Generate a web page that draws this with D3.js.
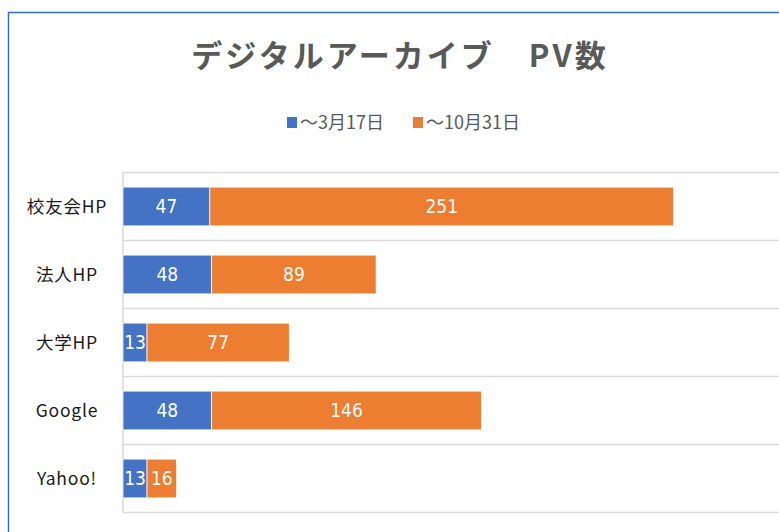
<!DOCTYPE html>
<html>
<head>
<meta charset="utf-8">
<script src="https://cdn.jsdelivr.net/npm/d3@7"></script>
<style>
  body { margin: 0; background: #fff; overflow: hidden; }
</style>
</head>
<body>
<div id="chart"></div>
<script>
// data
var categories = ["校友会HP", "法人HP", "大学HP", "Google", "Yahoo!"];
var seriesNames = ["～3月17日", "～10月31日"];
var march = [47, 48, 13, 48, 13];
var october = [251, 89, 77, 146, 16];
var colors = ["#4472C4", "#ED7D31"];

var W = 779, H = 532;

var svg = d3.select("#chart")
  .append("svg")
    .attr("width", W)
    .attr("height", H);

// chart border (cropped at right / bottom)
svg.append("rect")
  .attr("x", 8.5)
  .attr("y", 12.5)
  .attr("width", 900)
  .attr("height", 900)
  .attr("fill", "#fff")
  .attr("stroke", "#3A6BC0")
  .attr("stroke-width", 1.5);

var plot = {left: 123, top: 172.5, bottom: 512.5, right: 790};

var x = d3.scaleLinear()
    .domain([0, 361])
    .range([plot.left, plot.right]);

var y = d3.scaleBand()
    .domain(categories)
    .range([plot.top, plot.bottom])
    .paddingInner(0.43)
    .paddingOuter(0.215);

// gridlines at band edges
var step = y.step();
var edges = d3.range(categories.length + 1).map(function(i) { return plot.top + i * step; });
svg.selectAll(".grid")
  .data(edges)
  .enter()
  .append("line")
    .attr("x1", plot.left)
    .attr("x2", plot.right)
    .attr("y1", function(d) { return d; })
    .attr("y2", function(d) { return d; })
    .attr("stroke", "#D9D9D9")
    .attr("stroke-width", 1.5);

svg.append("line")
  .attr("x1", plot.left)
  .attr("x2", plot.left)
  .attr("y1", plot.top)
  .attr("y2", plot.bottom)
  .attr("stroke", "#D9D9D9")
  .attr("stroke-width", 1.5);

// stacked table
var table = categories.map(function(c, i) {
  return {name: c, a: march[i], b: october[i]};
});
var stacked = d3.stack().keys(["a", "b"])(table);

var layers = svg.selectAll(".layer")
  .data(stacked)
  .enter()
  .append("g")
    .attr("fill", function(d, i) { return colors[i]; });

layers.selectAll("rect")
  .data(function(d) { return d; })
  .enter()
  .append("rect")
    .attr("x", function(d) { return x(d[0]); })
    .attr("y", function(d) { return y(d.data.name); })
    .attr("width", function(d) { return x(d[1]) - x(d[0]); })
    .attr("height", y.bandwidth())
    .attr("stroke", "#fff")
    .attr("stroke-width", 0.75);

layers.selectAll("text")
  .data(function(d) { return d; })
  .enter()
  .append("text")
    .attr("x", function(d) { return (x(d[0]) + x(d[1])) / 2; })
    .attr("y", function(d) { return y(d.data.name) + y.bandwidth() / 2; })
    .attr("dy", "0.36em")
    .attr("text-anchor", "middle")
    .attr("fill", "#fff")
    .style("font-family", "'Liberation Sans Narrow', 'DejaVu Sans Condensed', sans-serif")
    .style("font-size", "19px")
    .text(function(d) { return d[1] - d[0]; });

// category labels
svg.selectAll(".cat")
  .data(categories)
  .enter()
  .append("text")
    .attr("x", 67)
    .attr("y", function(d) { return y(d) + y.bandwidth() / 2; })
    .attr("dy", "0.36em")
    .attr("text-anchor", "middle")
    .attr("fill", "#1a1a1a")
    .style("font-family", "'Noto Sans CJK JP', sans-serif")
    .style("font-size", "17.5px")
    .style("letter-spacing", "0.8px")
    .text(function(d) { return d; });

// title
svg.append("text")
  .attr("x", 400)
  .attr("y", 67)
  .attr("text-anchor", "middle")
  .attr("fill", "#595959")
  .style("font-family", "'Noto Sans CJK JP', sans-serif")
  .style("font-weight", "bold")
  .style("font-size", "31px")
  .style("letter-spacing", "3px")
  .text("デジタルアーカイブ　PV数");

// legend
var legendX = [287, 413];
var legend = svg.selectAll(".legend")
  .data(seriesNames)
  .enter()
  .append("g")
    .attr("transform", function(d, i) { return "translate(" + legendX[i] + ",117)"; });

legend.append("rect")
  .attr("width", 10)
  .attr("height", 11)
  .attr("fill", function(d, i) { return colors[i]; });

legend.append("text")
  .attr("x", 13)
  .attr("y", 5.5)
  .attr("dy", "0.36em")
  .attr("fill", "#595959")
  .style("font-family", "'Liberation Sans Narrow', 'Noto Sans CJK JP', sans-serif")
  .style("font-size", "18px")
  .text(function(d) { return d; });
</script>
</body>
</html>
